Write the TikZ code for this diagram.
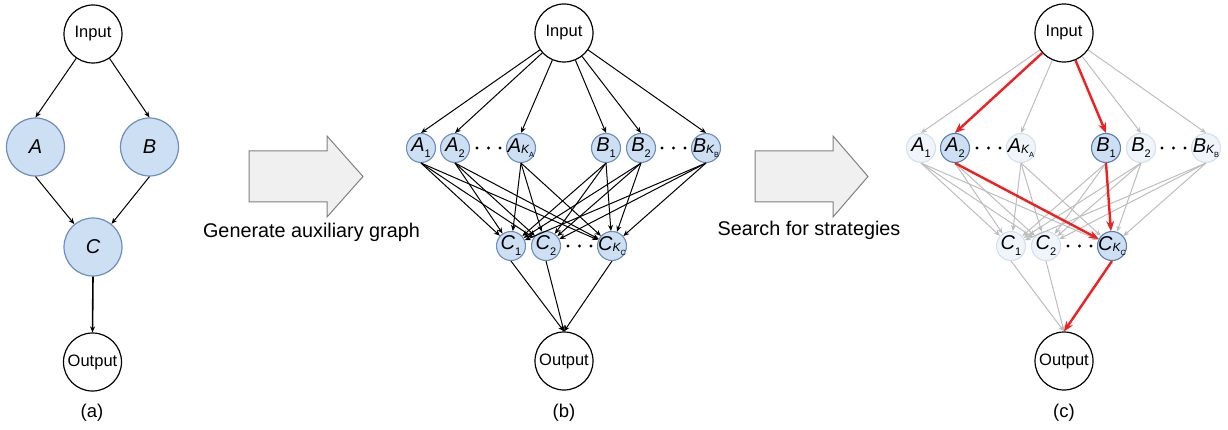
\documentclass[tikz,border=0pt]{standalone}
\usepackage{fontspec}
\setmainfont{Liberation Sans}
\usetikzlibrary{arrows.meta}

\definecolor{nodefill}{HTML}{CDDFF2}
\definecolor{nodeline}{HTML}{6C8EBF}
\definecolor{hiline}{HTML}{5A7DB3}
\definecolor{fadefill}{HTML}{F0F5FB}
\definecolor{fadeline}{HTML}{D5E0EE}
\definecolor{edgegray}{HTML}{BDBDBD}
\definecolor{pathred}{HTML}{F02020}
\definecolor{arrowfill}{HTML}{F0F0F0}
\definecolor{arrowline}{HTML}{808080}

% letter with a plain subscript, e.g. A_1
\newcommand{\nlab}[2]{\makebox[0pt]{\fontsize{20}{20}\selectfont\itshape #1\upshape\raisebox{-6pt}{\fontsize{11}{11}\selectfont #2}}}
% letter with subscript K_x
\newcommand{\klab}[2]{\makebox[0pt]{\fontsize{20}{20}\selectfont\itshape #1\raisebox{-1.5pt}{\fontsize{12}{12}\selectfont K}\upshape\raisebox{-5pt}{\fontsize{7.5}{7.5}\selectfont #2}}}

\tikzset{
  io/.style={circle, draw=black, line width=1.2pt, minimum size=58pt, inner sep=0pt,
    fill=white, font=\fontsize{16.5}{16.5}\selectfont},
  bignode/.style={circle, draw=nodeline, fill=nodefill, line width=1.2pt, minimum size=58pt,
    inner sep=0pt, font=\fontsize{20}{20}\selectfont\itshape},
  smnode/.style={circle, draw=nodeline, fill=nodefill, line width=1.1pt, minimum size=29pt, inner sep=0pt},
  hinode/.style={smnode, draw=hiline},
  fadenode/.style={smnode, draw=fadeline, fill=fadefill},
  conn/.style={-{Stealth[length=6pt,width=5pt]}, line width=1pt, draw=black},
  thickconn/.style={conn, line width=1.6pt},
  grayconn/.style={conn, draw=edgegray},
  redconn/.style={-{Stealth[length=10pt,width=8pt]}, line width=2.4pt, draw=pathred},
  blockarrow/.style={fill=arrowfill, draw=arrowline, line width=1pt},
  caption/.style={font=\fontsize{18.5}{18.5}\selectfont},
  steplabel/.style={font=\fontsize{19.8}{19.8}\selectfont, anchor=base},
  ellipsisdot/.style={circle, fill=black, inner sep=0pt, minimum size=3.4pt},
}

\begin{document}
\begin{tikzpicture}[x=1pt, y=-1pt]
\useasboundingbox (0,0) rectangle (1228,430);

% ---------------- (a) original graph ----------------
\node[io]      (aIn)  at (93,34)    {Input};
\node[bignode] (aA)   at (35.5,147) {A};
\node[bignode] (aB)   at (149.5,147){B};
\node[bignode] (aC)   at (93,247)   {C};
\node[io]      (aOut) at (92.5,362) {Output};
\node[caption] (capA) at (92,413)   {(a)};

\draw[conn] (aIn) -- (aA.north);
\draw[conn] (aIn) -- (aB.north);
\draw[conn] (aA.south) -- (aC);
\draw[conn] (aB.south) -- (aC);
\draw[thickconn] (aC.south) -- (aOut.north);

% ---------------- first block arrow ----------------
\draw[blockarrow] (249,151) -- (327,151) -- (327,136) -- (363,176.5) -- (327,217)
  -- (327,202) -- (249,202) -- cycle;
\node[steplabel] (genlab) at (311.5,237.5) {Generate auxiliary graph};

% ---------------- (b) auxiliary graph ----------------
\node[io]     (bIn)  at (564,33)  {Input};
\node[smnode] (bA1)  at (421,148) {\nlab{A}{1}};
\node[smnode] (bA2)  at (455,148) {\nlab{A}{2}};
\node[smnode] (bAK)  at (521,148) {\klab{A}{A}};
\node[smnode] (bB1)  at (606,148) {\nlab{B}{1}};
\node[smnode] (bB2)  at (641,148) {\nlab{B}{2}};
\node[smnode] (bBK)  at (706,148) {\klab{B}{B}};
\node[smnode] (bC1)  at (511,246) {\nlab{C}{1}};
\node[smnode] (bC2)  at (546,246) {\nlab{C}{2}};
\node[smnode] (bCK)  at (612,246) {\klab{C}{C}};
\node[io]     (bOut) at (564,361) {Output};
\node[caption] (capB) at (564,413) {(b)};

\foreach \x in {477,488.5,500} \node[ellipsisdot] at (\x,148) {};
\foreach \x in {662,673.5,685} \node[ellipsisdot] at (\x,148) {};
\foreach \x in {568,579.5,591} \node[ellipsisdot] at (\x,246) {};

\foreach \t in {A1,A2,AK,B1,B2,BK} \draw[conn] (bIn) -- (b\t.north);
\foreach \s in {A1,A2,AK,B1,B2,BK}
  \foreach \t in {C1,C2,CK} \draw[conn] (b\s.south) -- (b\t);
\foreach \s in {C1,C2,CK} \draw[conn] (b\s.south) -- (bOut.north);

% ---------------- second block arrow ----------------
\draw[blockarrow] (755,151) -- (833,151) -- (833,136) -- (868,176.5) -- (833,217)
  -- (833,202) -- (755,202) -- cycle;
\node[steplabel] (searchlab) at (809,236) {Search for strategies};

% ---------------- (c) selected strategy ----------------
\node[io]       (cIn)  at (1064,33)  {Input};
\node[fadenode] (cA1)  at (921,148)  {\nlab{A}{1}};
\node[hinode]   (cA2)  at (955,148)  {\nlab{A}{2}};
\node[fadenode] (cAK)  at (1021,148) {\klab{A}{A}};
\node[hinode]   (cB1)  at (1106,148) {\nlab{B}{1}};
\node[fadenode] (cB2)  at (1141,148) {\nlab{B}{2}};
\node[fadenode] (cBK)  at (1206,148) {\klab{B}{B}};
\node[fadenode] (cC1)  at (1011,246) {\nlab{C}{1}};
\node[fadenode] (cC2)  at (1046,246) {\nlab{C}{2}};
\node[hinode]   (cCK)  at (1112,246) {\klab{C}{C}};
\node[io]       (cOut) at (1064,361) {Output};
\node[caption] (capC) at (1064,413) {(c)};

\foreach \x in {977,988.5,1000} \node[ellipsisdot] at (\x,148) {};
\foreach \x in {1162,1173.5,1185} \node[ellipsisdot] at (\x,148) {};
\foreach \x in {1068,1079.5,1091} \node[ellipsisdot] at (\x,246) {};

\foreach \t in {A1,A2,AK,B1,B2,BK} \draw[grayconn] (cIn) -- (c\t.north);
\foreach \s in {A1,A2,AK,B1,B2,BK}
  \foreach \t in {C1,C2,CK} \draw[grayconn] (c\s.south) -- (c\t);
\foreach \s in {C1,C2,CK} \draw[grayconn] (c\s.south) -- (cOut.north);

\draw[redconn] (cIn) -- (cA2.north);
\draw[redconn] (cIn) -- (cB1.north);
\draw[redconn] (cA2.south) -- (cCK);
\draw[redconn] (cB1.south) -- (cCK);
\draw[redconn] (cCK.south) -- (cOut.north);
\end{tikzpicture}
\end{document}
